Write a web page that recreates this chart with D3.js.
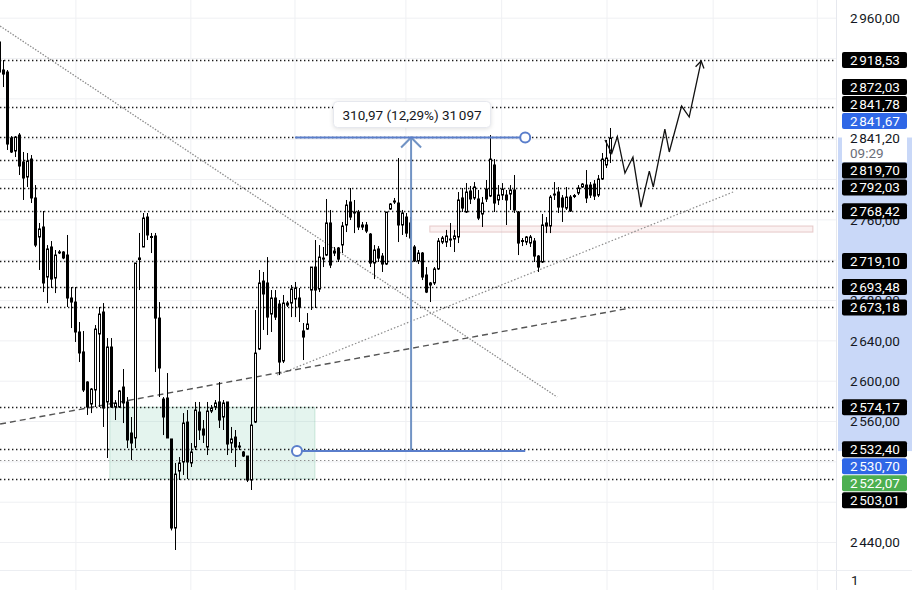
<!DOCTYPE html>
<html>
<head>
<meta charset="utf-8">
<script src="https://cdn.jsdelivr.net/npm/d3@7"></script>
<style>
  html, body { margin: 0; padding: 0; background: #fff; }
  svg { display: block; font-family: Roboto, "Noto Sans", sans-serif; }
</style>
</head>
<body>
<svg id="chart" width="912" height="590"></svg>
<script>
// candles: [open, high, low, close], one per bar
const ohlc = [
  [2936.4, 2940.3, 2900.7, 2906.6], [2908.6, 2918.5, 2891.7, 2904.6], [2906.6, 2908.6, 2829.3, 2835.2],
  [2841.2, 2843.1, 2826.3, 2827.3], [2828.3, 2843.1, 2822.3, 2842.1], [2844.1, 2846.1, 2804.5, 2813.4],
  [2817.4, 2827.3, 2779.7, 2801.5], [2802.5, 2826.3, 2792.6, 2818.3], [2820.3, 2824.3, 2776.7, 2781.7],
  [2781.7, 2794.5, 2733.0, 2735.0], [2743.0, 2756.9, 2710.3, 2751.0], [2752.9, 2768.8, 2688.4, 2697.4],
  [2703.3, 2735.0, 2677.5, 2731.1], [2733.1, 2739.0, 2692.4, 2701.3], [2702.3, 2730.1, 2687.4, 2725.1],
  [2728.0, 2730.1, 2726.1, 2728.2], [2728.1, 2729.0, 2721.0, 2722.2], [2725.1, 2745.0, 2673.6, 2682.5],
  [2682.5, 2693.4, 2652.7, 2678.5], [2678.5, 2693.4, 2638.9, 2648.8], [2648.8, 2658.7, 2619.0, 2628.0],
  [2629.0, 2649.8, 2589.3, 2591.3], [2599.2, 2600.0, 2566.5, 2574.4], [2577.4, 2593.2, 2568.4, 2592.2],
  [2591.3, 2655.7, 2574.4, 2651.7], [2646.8, 2673.6, 2574.4, 2666.6], [2668.6, 2677.5, 2554.6, 2573.4],
  [2579.4, 2642.8, 2523.8, 2633.9], [2633.9, 2642.8, 2573.4, 2574.4], [2574.4, 2581.3, 2561.5, 2578.4],
  [2574.4, 2591.3, 2573.4, 2590.3], [2594.2, 2612.1, 2558.5, 2578.4], [2579.4, 2584.3, 2533.7, 2541.7],
  [2548.6, 2564.5, 2521.8, 2538.7], [2543.7, 2717.2, 2533.7, 2717.2], [2720.7, 2747.0, 2690.4, 2722.2],
  [2733.1, 2766.8, 2733.0, 2761.8], [2762.8, 2766.8, 2740.0, 2745.0], [2743.5, 2747.0, 2727.1, 2743.0],
  [2744.0, 2747.0, 2609.1, 2662.6], [2662.6, 2678.5, 2584.3, 2613.1], [2582.3, 2584.3, 2546.6, 2564.5],
  [2583.3, 2608.1, 2543.7, 2543.7], [2542.7, 2542.7, 2452.0, 2454.4], [2454.4, 2518.9, 2432.6, 2507.9],
  [2510.9, 2524.8, 2502.0, 2518.9], [2519.9, 2568.4, 2507.0, 2558.5], [2559.5, 2571.4, 2503.0, 2519.9],
  [2518.9, 2538.7, 2514.9, 2529.8], [2534.7, 2579.4, 2531.7, 2571.4], [2569.4, 2579.4, 2541.7, 2551.6],
  [2552.6, 2561.5, 2538.7, 2546.6], [2534.7, 2579.4, 2526.8, 2570.4], [2570.4, 2576.4, 2568.4, 2573.4],
  [2574.4, 2581.3, 2571.4, 2578.4], [2579.4, 2599.2, 2553.6, 2561.5], [2564.5, 2581.3, 2551.6, 2578.4],
  [2579.4, 2579.4, 2526.8, 2537.7], [2538.7, 2554.6, 2528.8, 2542.7], [2544.6, 2551.6, 2514.9, 2534.7],
  [2535.7, 2539.7, 2531.7, 2535.2], [2529.8, 2530.8, 2524.8, 2525.8], [2525.8, 2525.8, 2500.0, 2502.0],
  [2502.0, 2574.4, 2492.1, 2556.5], [2559.5, 2670.6, 2558.5, 2627.9], [2631.9, 2710.3, 2630.9, 2697.4],
  [2699.3, 2708.3, 2650.8, 2686.5], [2697.4, 2723.1, 2645.8, 2663.6], [2666.6, 2690.4, 2648.8, 2682.5],
  [2682.5, 2690.4, 2660.7, 2663.6], [2676.5, 2680.5, 2606.1, 2619.0], [2620.0, 2685.5, 2618.0, 2677.5],
  [2677.5, 2679.5, 2673.6, 2675.5], [2677.5, 2695.4, 2663.6, 2691.4], [2681.5, 2698.4, 2663.6, 2692.4],
  [2682.5, 2692.4, 2658.7, 2673.6], [2649.8, 2657.7, 2621.0, 2643.8], [2651.7, 2667.6, 2650.8, 2656.7],
  [2690.4, 2713.2, 2670.6, 2713.2], [2713.2, 2740.0, 2672.6, 2690.4], [2691.4, 2735.0, 2688.4, 2723.1],
  [2722.1, 2733.1, 2713.2, 2721.1], [2725.1, 2780.7, 2724.1, 2756.9], [2756.9, 2769.8, 2712.2, 2715.2],
  [2727.1, 2733.1, 2724.1, 2729.1], [2732.1, 2733.1, 2718.2, 2721.1], [2735.1, 2757.9, 2727.1, 2753.9],
  [2754.9, 2779.7, 2747.9, 2774.7], [2777.7, 2791.6, 2759.8, 2762.8], [2766.8, 2779.7, 2746.9, 2767.8],
  [2767.8, 2769.8, 2749.9, 2752.9], [2752.9, 2757.9, 2749.9, 2754.9], [2754.9, 2757.9, 2746.9, 2748.9],
  [2745.9, 2746.9, 2713.2, 2717.2], [2717.2, 2735.0, 2701.3, 2730.1], [2731.1, 2734.0, 2718.2, 2722.1],
  [2724.1, 2727.1, 2708.3, 2716.2], [2716.2, 2767.8, 2715.2, 2767.8], [2770.7, 2776.7, 2769.8, 2775.7],
  [2777.7, 2781.7, 2775.7, 2778.7], [2776.7, 2821.3, 2738.0, 2754.9], [2754.9, 2769.8, 2745.0, 2766.8],
  [2762.8, 2766.8, 2743.0, 2746.9], [2756.9, 2762.8, 2730.1, 2742.0], [2733.1, 2735.0, 2718.2, 2719.2],
  [2719.2, 2730.1, 2716.2, 2727.1], [2727.1, 2728.1, 2700.3, 2703.3], [2705.3, 2713.2, 2687.4, 2688.4],
  [2695.4, 2698.4, 2678.5, 2697.4], [2697.4, 2713.2, 2695.4, 2711.3], [2711.3, 2742.0, 2710.3, 2739.0],
  [2738.0, 2744.0, 2736.0, 2742.0], [2738.0, 2750.0, 2733.1, 2744.0], [2740.5, 2756.9, 2733.1, 2741.0],
  [2741.0, 2750.0, 2728.1, 2744.0], [2743.0, 2787.6, 2737.0, 2779.7], [2781.7, 2791.6, 2767.8, 2771.7],
  [2767.8, 2796.5, 2766.8, 2787.6], [2788.6, 2793.6, 2775.7, 2780.7], [2781.7, 2797.5, 2779.7, 2792.6],
  [2780.7, 2789.6, 2759.8, 2761.8], [2765.8, 2782.7, 2752.9, 2776.7], [2790.6, 2799.5, 2777.7, 2780.7],
  [2783.6, 2844.1, 2782.6, 2820.3], [2814.4, 2820.3, 2767.8, 2776.7], [2779.7, 2794.5, 2774.7, 2784.6],
  [2784.6, 2796.5, 2779.7, 2790.6], [2784.6, 2789.6, 2754.9, 2779.7], [2785.6, 2794.5, 2769.8, 2789.6],
  [2789.6, 2804.5, 2766.8, 2769.8], [2767.8, 2768.8, 2725.1, 2737.0], [2739.5, 2742.0, 2734.0, 2739.0],
  [2738.0, 2744.0, 2735.0, 2743.0], [2737.0, 2745.0, 2733.1, 2743.0], [2739.0, 2742.0, 2718.2, 2724.1],
  [2724.1, 2725.1, 2708.3, 2713.2], [2718.2, 2765.8, 2717.2, 2754.9], [2756.9, 2762.8, 2746.9, 2753.9],
  [2753.9, 2784.6, 2746.9, 2782.6], [2785.1, 2797.5, 2779.7, 2785.6], [2787.6, 2792.6, 2766.8, 2772.7],
  [2781.7, 2784.6, 2757.9, 2772.7], [2771.7, 2792.6, 2769.8, 2782.6], [2782.6, 2784.6, 2767.8, 2768.8],
  [2783.6, 2785.6, 2781.6, 2784.1], [2786.6, 2794.5, 2784.6, 2791.6], [2792.6, 2796.5, 2791.6, 2795.5],
  [2794.5, 2809.4, 2776.7, 2781.7], [2794.5, 2797.5, 2781.7, 2784.6], [2795.5, 2799.5, 2779.7, 2783.6],
  [2784.6, 2804.5, 2782.6, 2800.5], [2800.5, 2826.3, 2799.5, 2820.3], [2814.4, 2839.2, 2811.4, 2821.3],
  [2826.3, 2851.1, 2816.4, 2841.2]
];

// hand drawn projection after the last bar: [bar index, price]
const projection = [
  [151.8, 2839.2], [153.5, 2826.0], [154.9, 2842.5], [156.8, 2806.4], [158.8, 2822.3],
  [160.8, 2772.7], [162.9, 2808.4], [163.9, 2792.6], [166.8, 2850.1], [167.9, 2827.3],
  [171.0, 2872.9], [172.9, 2862.0], [175.9, 2917.5]
];

// horizontal alert lines (black dotted) and the grey one
const levels = [2918.53, 2872.03, 2841.78, 2819.70, 2792.03, 2768.42, 2719.10, 2693.48, 2673.18, 2574.17, 2532.40, 2503.01];
const greyLevels = [2522.07];

// trend lines: [[i0, p0], [i1, p1]]
const downTrend = [[0.2, 2952.2], [139.8, 2584.3]];
const upTrend = [[69.6, 2606.1], [183.9, 2787.6]];
const dashedTrend = [[0.2, 2557.5], [158.1, 2672.6]];

// zones: [i0, i1, pLow, pHigh]
const greenZone = [27.7, 79.1, 2503.01, 2574.17];
const pinkZone = [107.9, 203.9, 2747.9, 2753.9];

// price range measure
const measureFrom = 2530.70, measureTo = 2841.67;
const measureBar = 103.2, measureLeft = 74.6, measureRight = 131.8;
const measureText = "310,97 (12,29%) 31\u202F097";

// axis: only the scale values that are not covered by price labels
const axisTicks = [2960, 2760, 2680, 2640, 2600, 2560, 2440];
const gridTicks = [2440, 2480, 2520, 2560, 2600, 2640, 2680, 2720, 2760, 2800, 2840, 2880, 2920, 2960];
const timeGrid = [19.2, 48.0, 74.1, 101.9, 125.9, 152.3, 178.9, 205.0];

// price labels on the scale
const priceLabels = [
  { v: 2918.53, kind: "black" }, { v: 2872.03, kind: "black" }, { v: 2841.78, kind: "black" },
  { v: 2841.67, kind: "blue" }, { v: 2841.20, kind: "last", time: "09:29" },
  { v: 2819.70, kind: "black" }, { v: 2792.03, kind: "black" }, { v: 2768.42, kind: "black" },
  { v: 2719.10, kind: "black" }, { v: 2693.48, kind: "black" }, { v: 2673.18, kind: "black" },
  { v: 2574.17, kind: "black" }, { v: 2532.40, kind: "black" }, { v: 2530.70, kind: "blue" },
  { v: 2522.07, kind: "green" }, { v: 2503.01, kind: "black" }
];

const W = 912, H = 590, plotRight = 836;
const svg = d3.select("#chart");

const x = d3.scaleLinear().domain([0, ohlc.length - 1]).range([-0.7, 609.8]);
const y = d3.scaleLinear().domain([2392.94, 2978.03]).range([H, 0]);

const fmt = v => d3.format(",.2f")(v).replace(/,/g, "\u202F").replace(".", ",");

// grid
const grid = svg.append("g");
grid.selectAll(".hg").data(gridTicks).join("line")
  .attr("x1", 0).attr("x2", plotRight)
  .attr("y1", d => y(d)).attr("y2", d => y(d))
  .attr("stroke", "#eff0f3").attr("stroke-width", 1);
grid.selectAll(".vg").data(timeGrid).join("line")
  .attr("x1", d => x(d)).attr("x2", d => x(d))
  .attr("y1", 0).attr("y2", H)
  .attr("stroke", "#eff0f3").attr("stroke-width", 1);

// zones
function zone(z, fill, stroke) {
  svg.append("rect")
    .attr("x", x(z[0])).attr("width", x(z[1]) - x(z[0]))
    .attr("y", y(z[3])).attr("height", y(z[2]) - y(z[3]))
    .attr("fill", fill).attr("stroke", stroke).attr("stroke-width", 1);
}
zone(greenZone, "rgba(120,200,170,0.2)", "rgba(120,190,160,0.35)");
zone(pinkZone, "rgba(235,190,190,0.22)", "rgba(215,170,170,0.6)");

// alert levels
svg.append("g").selectAll("line").data(levels).join("line")
  .attr("x1", 0).attr("x2", 841)
  .attr("y1", d => Math.round(y(d)) + 0.5).attr("y2", d => Math.round(y(d)) + 0.5)
  .attr("stroke", "#1a1a1a").attr("stroke-width", 1.3).attr("stroke-dasharray", "1.4,2.6");
svg.append("g").selectAll("line").data(greyLevels).join("line")
  .attr("x1", 0).attr("x2", 841)
  .attr("y1", d => Math.round(y(d)) + 0.5).attr("y2", d => Math.round(y(d)) + 0.5)
  .attr("stroke", "#8a8a8a").attr("stroke-width", 1.2).attr("stroke-dasharray", "1.4,2.6");

// trend lines
function trend(t, color, dash, w) {
  svg.append("line")
    .attr("x1", x(t[0][0])).attr("y1", y(t[0][1]))
    .attr("x2", x(t[1][0])).attr("y2", y(t[1][1]))
    .attr("stroke", color).attr("stroke-width", w).attr("stroke-dasharray", dash);
}
trend(downTrend, "#8c8c8c", "1.5,1.5", 1.3);
trend(upTrend, "#8c8c8c", "1.5,2", 1.2);
trend(dashedTrend, "#555", "6,4", 1.4);

// candles
const candles = svg.append("g");
candles.selectAll("line").data(ohlc).join("line")
  .attr("x1", (d, i) => Math.round(x(i)) + 0.5).attr("x2", (d, i) => Math.round(x(i)) + 0.5)
  .attr("y1", d => y(d[1])).attr("y2", d => y(d[2]))
  .attr("stroke", "#000").attr("stroke-width", 1);
candles.selectAll("rect").data(ohlc).join("rect")
  .attr("x", (d, i) => Math.round(x(i)) - 0.5)
  .attr("width", 2)
  .attr("y", d => y(Math.max(d[0], d[3])))
  .attr("height", d => Math.max(1, Math.abs(y(d[0]) - y(d[3]))))
  .attr("fill", d => d[3] >= d[0] ? "#fff" : "#000")
  .attr("stroke", "#000").attr("stroke-width", 1);

// projection zigzag
const proj = d3.line().x(d => x(d[0])).y(d => y(d[1]));
svg.append("path").datum(projection)
  .attr("d", proj).attr("fill", "none")
  .attr("stroke", "#111").attr("stroke-width", 1.3).attr("stroke-linejoin", "miter");
{
  const a = projection[projection.length - 2], b = projection[projection.length - 1];
  const bx = x(b[0]), by = y(b[1]);
  const ang = Math.atan2(by - y(a[1]), bx - x(a[0]));
  const L = 8;
  const head = [[bx + L * Math.cos(ang + Math.PI * 0.82), by + L * Math.sin(ang + Math.PI * 0.82)], [bx, by],
                [bx + L * Math.cos(ang - Math.PI * 0.82), by + L * Math.sin(ang - Math.PI * 0.82)]];
  svg.append("path").attr("d", d3.line()(head)).attr("fill", "none")
    .attr("stroke", "#111").attr("stroke-width", 1.3);
}

// measure tool
const mBlue = "#5a7ecb";
const m = svg.append("g");
const yTop = y(measureTo), yBot = y(measureFrom), xm = x(measureBar);
m.append("line").attr("x1", xm).attr("x2", xm).attr("y1", yBot).attr("y2", yTop + 1)
  .attr("stroke", "#7193c4").attr("stroke-width", 2);
m.append("path")
  .attr("d", d3.line()([[xm - 10, yTop + 10], [xm, yTop], [xm + 10, yTop + 10]]))
  .attr("fill", "none").attr("stroke", "#7193c4").attr("stroke-width", 2);
m.append("line").attr("x1", x(measureLeft) - 2).attr("x2", x(measureRight) - 5)
  .attr("y1", yTop).attr("y2", yTop).attr("stroke", mBlue).attr("stroke-width", 2);
m.append("circle").attr("cx", x(measureRight)).attr("cy", yTop).attr("r", 5)
  .attr("fill", "#fff").attr("stroke", mBlue).attr("stroke-width", 2);
m.append("line").attr("x1", x(measureLeft) + 5).attr("x2", x(measureRight))
  .attr("y1", yBot).attr("y2", yBot).attr("stroke", mBlue).attr("stroke-width", 2);
m.append("circle").attr("cx", x(measureLeft)).attr("cy", yBot).attr("r", 5)
  .attr("fill", "#fff").attr("stroke", mBlue).attr("stroke-width", 2);

const mt = m.append("text").attr("x", xm + 1).attr("y", yTop - 18)
  .attr("text-anchor", "middle").attr("font-size", 13.5).attr("fill", "#131722")
  .text(measureText);
const bb = mt.node().getBBox();
m.insert("rect", "text")
  .attr("x", bb.x - 9).attr("y", bb.y - 5).attr("width", bb.width + 18).attr("height", bb.height + 10)
  .attr("rx", 4).attr("fill", "#fff")
  .attr("stroke", "#e6e8ee").attr("stroke-width", 1)
  .style("filter", "drop-shadow(0 1px 2px rgba(0,0,0,0.12))");

// price scale
const axisG = svg.append("g");
axisG.append("rect").attr("x", plotRight).attr("y", 0).attr("width", W - plotRight).attr("height", H).attr("fill", "#fff");
axisG.append("line").attr("x1", plotRight + 0.5).attr("x2", plotRight + 0.5).attr("y1", 0).attr("y2", H)
  .attr("stroke", "#e6e8ee");
axisG.append("rect").attr("x", 838).attr("y", yTop).attr("width", W - 838).attr("height", yBot - yTop)
  .attr("fill", "#c9d8f8");

const yAxis = d3.axisRight(y).tickValues(axisTicks).tickSize(0).tickPadding(0).tickFormat(fmt);
axisG.append("g").attr("transform", `translate(850,0)`).call(yAxis)
  .call(g => g.select(".domain").remove())
  .call(g => g.selectAll("text").attr("font-size", 13.5).attr("fill", "#131722").attr("font-family", "Roboto, sans-serif"));

// stack labels around the last price label
const LH = 17;
const placed = priceLabels.map(d => ({ ...d, cy: y(d.v) })).sort((a, b) => a.cy - b.cy);
const ai = placed.findIndex(d => d.kind === "last");
const labTop = d => d.cy - LH / 2;
const labBottom = d => d.cy + (d.kind === "last" ? 24 : LH / 2);
for (let i = ai - 1; i >= 0; i--) placed[i].cy = Math.min(placed[i].cy, labTop(placed[i + 1]) - LH / 2);
for (let i = ai + 1; i < placed.length; i++) placed[i].cy = Math.max(placed[i].cy, labBottom(placed[i - 1]) + LH / 2);

const colors = { black: "#000", blue: "#2f67e6", green: "#4caf50" };
const lab = axisG.append("g").selectAll("g").data(placed).join("g")
  .attr("transform", d => `translate(0,${d.cy})`);
lab.filter(d => d.kind !== "last").append("rect")
  .attr("x", 842).attr("y", -8).attr("width", 65).attr("height", 16).attr("rx", 2)
  .attr("fill", d => colors[d.kind]);
lab.filter(d => d.kind === "last").append("rect")
  .attr("x", 842).attr("y", -8).attr("width", 65).attr("height", 32).attr("fill", "#fff");
lab.append("text").attr("x", 850).attr("y", 0).attr("dy", "0.36em")
  .attr("font-size", 13.5)
  .attr("fill", d => d.kind === "last" ? "#131722" : "#fff")
  .text(d => fmt(d.v));
lab.filter(d => d.time).append("text").attr("x", 850).attr("y", 15).attr("dy", "0.36em")
  .attr("font-size", 13.5).attr("fill", "#6a6d78").text(d => d.time);

axisG.append("line").attr("x1", 0).attr("x2", W).attr("y1", 570.5).attr("y2", 570.5).attr("stroke", "#eceef2");
axisG.append("text").attr("x", 851).attr("y", 580).attr("dy", "0.36em").attr("font-size", 13.5)
  .attr("fill", "#131722").text("1");
</script>
</body>
</html>
